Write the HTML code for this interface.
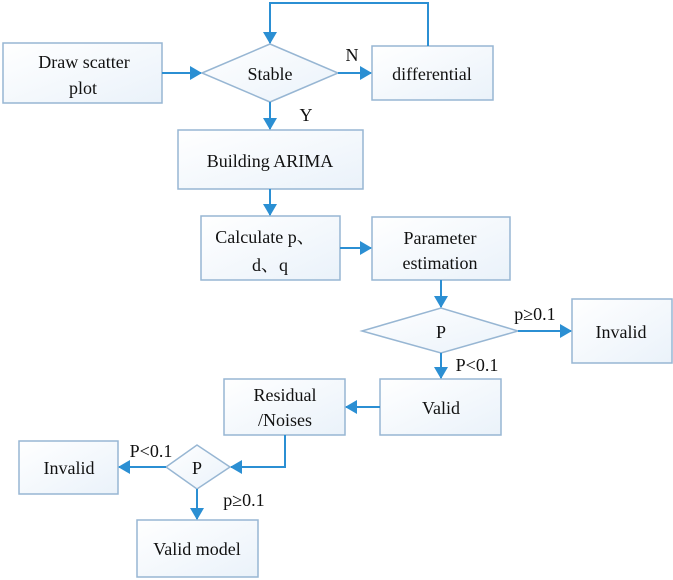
<!DOCTYPE html>
<html><head><style>
body{margin:0;background:#fff;}
svg{display:block;}
text{font-family:"Liberation Serif","Noto Serif CJK SC",serif;font-size:18px;fill:#111;}
</style></head><body>
<svg width="673" height="580" viewBox="0 0 673 580" xmlns="http://www.w3.org/2000/svg">
<defs>
<linearGradient id="g" x1="0" y1="0" x2="1" y2="1">
<stop offset="0" stop-color="#ffffff"/><stop offset="1" stop-color="#eaf2fa"/>
</linearGradient>
<marker id="a" markerWidth="12" markerHeight="14" refX="11" refY="7" orient="auto" markerUnits="userSpaceOnUse">
<path d="M0,0 L12,7 L0,14 z" fill="#2b8fd3"/>
</marker>
</defs>
<g fill="url(#g)" stroke="#97b6d3" stroke-width="1.5">
<rect x="3" y="43" width="159" height="60"/>
<polygon points="202,73 270,44 338,73 270,102"/>
<rect x="372" y="46" width="121" height="54"/>
<rect x="178" y="130" width="185" height="59"/>
<rect x="201" y="216" width="139" height="64"/>
<rect x="372" y="217" width="138" height="63"/>
<polygon points="362,331 441,308 518,331 441,353"/>
<rect x="572" y="299" width="100" height="64"/>
<rect x="380" y="379" width="121" height="56"/>
<rect x="224" y="379" width="121" height="56"/>
<rect x="19" y="441" width="99" height="53"/>
<polygon points="166,467 197,445 230,467 197,489"/>
<rect x="137" y="520" width="121" height="57"/>
</g>
<g stroke="#2b8fd3" stroke-width="2" fill="none">
<path d="M162,73 L201,73" marker-end="url(#a)"/>
<path d="M338,73 L371,73" marker-end="url(#a)"/>
<path d="M428,46 L428,3 L270,3 L270,43" marker-end="url(#a)"/>
<path d="M270,102 L270,129" marker-end="url(#a)"/>
<path d="M270,189 L270,215" marker-end="url(#a)"/>
<path d="M340,248 L371,248" marker-end="url(#a)"/>
<path d="M441,280 L441,307" marker-end="url(#a)"/>
<path d="M518,331 L571,331" marker-end="url(#a)"/>
<path d="M441,353 L441,378" marker-end="url(#a)"/>
<path d="M380,407 L346,407" marker-end="url(#a)"/>
<path d="M285,435 L285,467 L231,467" marker-end="url(#a)"/>
<path d="M166,467 L119,467" marker-end="url(#a)"/>
<path d="M197,489 L197,519" marker-end="url(#a)"/>
</g>
<g text-anchor="middle">
<text x="84" y="68">Draw  scatter</text><text x="83" y="94">plot</text>
<text x="270" y="80">Stable</text>
<text x="432" y="80">differential</text>
<text x="270" y="167">Building ARIMA</text>
<text x="265" y="243">Calculate p、</text><text x="270" y="271">d、q</text>
<text x="440" y="244">Parameter</text><text x="440" y="269">estimation</text>
<text x="441" y="338">P</text>
<text x="621" y="338">Invalid</text>
<text x="441" y="414">Valid</text>
<text x="285" y="401">Residual</text><text x="285" y="426">/Noises</text>
<text x="69" y="474">Invalid</text>
<text x="197" y="474">P</text>
<text x="197" y="555">Valid model</text>
<text x="352" y="61">N</text>
<text x="306" y="121">Y</text>
<text x="535" y="320">p≥0.1</text>
<text x="477" y="371">P&lt;0.1</text>
<text x="151" y="457">P&lt;0.1</text>
<text x="244" y="506">p≥0.1</text>
</g>
</svg>
</body></html>
